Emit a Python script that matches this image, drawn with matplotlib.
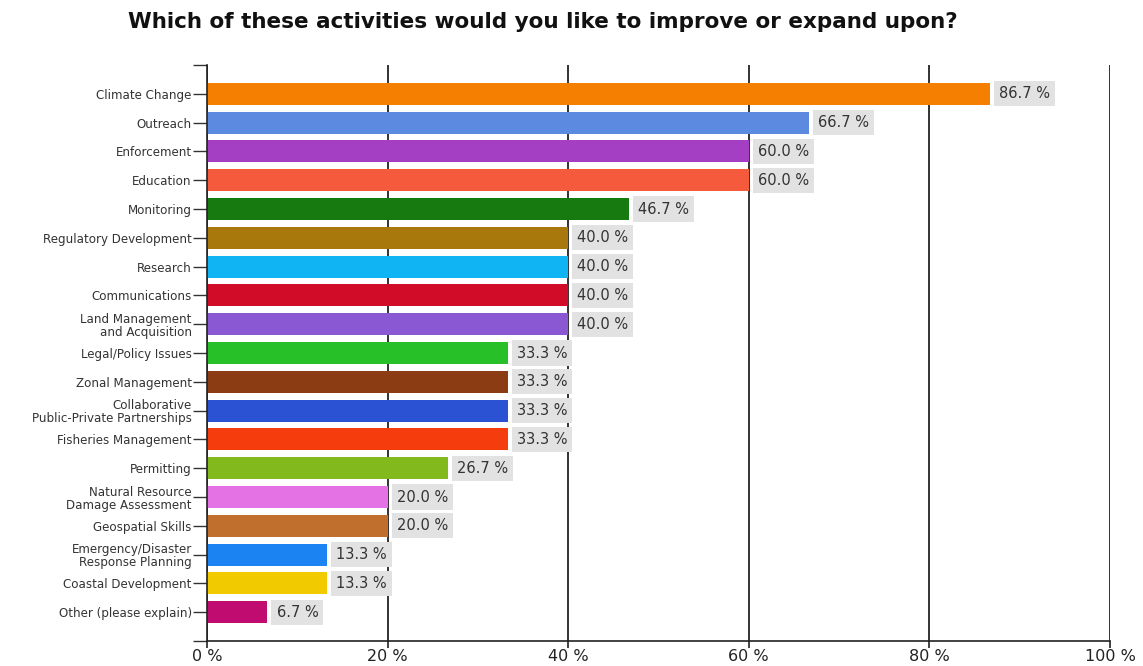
import matplotlib.pyplot as plt

categories = ['Climate Change', 'Outreach', 'Enforcement', 'Education', 'Monitoring',
              'Regulatory Development', 'Research', 'Communications',
              'Land Management\nand Acquisition', 'Legal/Policy Issues', 'Zonal Management',
              'Collaborative\nPublic-Private Partnerships', 'Fisheries Management',
              'Permitting', 'Natural Resource\nDamage Assessment', 'Geospatial Skills',
              'Emergency/Disaster\nResponse Planning', 'Coastal Development',
              'Other (please explain)']
percent = [86.7, 66.7, 60.0, 60.0, 46.7, 40.0, 40.0, 40.0, 40.0, 33.3, 33.3,
           33.3, 33.3, 26.7, 20.0, 20.0, 13.3, 13.3, 6.7]
colors = ['#f57f00', '#5b8ae0', '#a43fc4', '#f55a3c', '#167a10', '#a8780c', '#10b4f2',
          '#d00c28', '#8a58d2', '#28c028', '#8c3c12', '#2a52d2', '#f53c0c', '#82ba1e',
          '#e472e4', '#c0702c', '#1c84f2', '#f2ca00', '#c00c70']
xticks = [0, 20, 40, 60, 80, 100]

fig = plt.figure(figsize=(11.43, 6.66), dpi=100)
ax = fig.add_axes([0.1811, 0.0375, 0.79, 0.8649])

pos = list(range(len(categories)))
ax.barh(pos, percent, height=0.76, color=colors, zorder=2)

# value tags to the right of each bar
for y, v in zip(pos, percent):
    ax.text(v + 1.0, y, f'{v:.1f} %', va='center', ha='left', fontsize=10.5, color='#333333',
            bbox=dict(boxstyle='square,pad=0.35', fc='#e2e2e2', ec='none'), zorder=3)

ax.set_xlim(0, 100)
ax.set_ylim(len(categories), -1)
ax.set_xticks(xticks)
ax.set_xticklabels([f'{t} %' for t in xticks], fontsize=11.5, color='#222222')
ax.set_yticks(range(-1, len(categories) + 1))
ax.set_yticklabels([''] + categories + [''], fontsize=8.6, color='#333333', linespacing=1.0)
ax.tick_params(axis='y', length=10, width=1, color='#333333', pad=1)
ax.tick_params(axis='x', length=5, width=1.2, color='#222222', pad=1)

ax.grid(axis='x', color='#222222', linewidth=1.3, zorder=0)
ax.set_axisbelow(True)
for side in ['top', 'right']:
    ax.spines[side].set_visible(False)
for side in ['left', 'bottom']:
    ax.spines[side].set_color('#222222')
    ax.spines[side].set_linewidth(1.2)

fig.suptitle('Which of these activities would you like to improve or expand upon?',
             x=0.475, y=0.982, fontsize=15.5, fontweight='bold', color='#111111')

fig.savefig('out.png', dpi=100, facecolor='white')
